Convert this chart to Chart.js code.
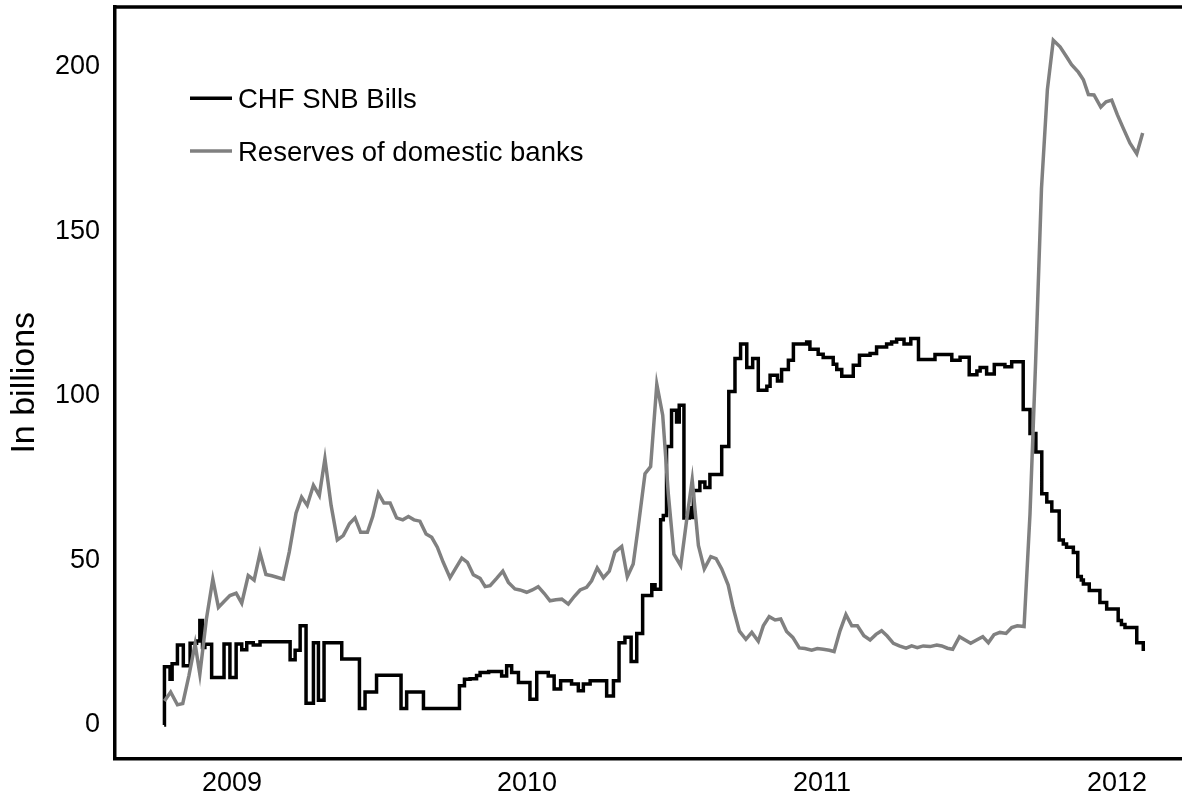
<!DOCTYPE html>
<html>
<head>
<meta charset="utf-8">
<script src="https://cdn.jsdelivr.net/npm/chart.js@4.4.1/dist/chart.umd.min.js"></script>
<style>
html,body{margin:0;padding:0;background:#fff;}
#wrap{width:1182px;height:797px;position:relative;}
</style>
</head>
<body>
<div id="wrap"><canvas id="c"></canvas></div>
<script>
// ---- data ----
const xTickYears = [2009, 2010, 2011, 2012];
const yTickValues = [0, 50, 100, 150, 200];
const seriesNames = ['CHF SNB Bills', 'Reserves of domestic banks'];

// CHF SNB Bills (step series; each value holds until the next date), dates as decimal years
const billsDates = [
  2008.770, 2008.771, 2008.790, 2008.797, 2008.815, 2008.835, 2008.858, 2008.880, 2008.891, 2008.900,
  2008.908, 2008.931, 2008.973, 2008.993, 2009.014, 2009.033, 2009.050, 2009.072, 2009.095, 2009.197,
  2009.214, 2009.231, 2009.251, 2009.276, 2009.293, 2009.312, 2009.372, 2009.432, 2009.451, 2009.490,
  2009.573, 2009.592, 2009.649, 2009.771, 2009.788, 2009.807, 2009.829, 2009.841, 2009.870, 2009.914,
  2009.931, 2009.948, 2009.971, 2010.010, 2010.033, 2010.072, 2010.092, 2010.114, 2010.151, 2010.174,
  2010.191, 2010.214, 2010.270, 2010.293, 2010.312, 2010.332, 2010.353, 2010.372, 2010.392, 2010.423,
  2010.434, 2010.453, 2010.462, 2010.473, 2010.490, 2010.507, 2010.516, 2010.532, 2010.550, 2010.558,
  2010.564, 2010.586, 2010.603, 2010.620, 2010.660, 2010.684, 2010.705, 2010.724, 2010.745, 2010.765,
  2010.784, 2010.813, 2010.824, 2010.849, 2010.863, 2010.886, 2010.903, 2010.948, 2010.959, 2010.987,
  2011.004, 2011.038, 2011.050, 2011.067, 2011.106, 2011.127, 2011.163, 2011.185, 2011.219, 2011.236,
  2011.253, 2011.278, 2011.301, 2011.327, 2011.383, 2011.440, 2011.468, 2011.499, 2011.525, 2011.536,
  2011.558, 2011.584, 2011.620, 2011.643, 2011.682, 2011.705, 2011.725, 2011.745, 2011.762, 2011.779,
  2011.804, 2011.818, 2011.829, 2011.852, 2011.867, 2011.879, 2011.886, 2011.906, 2011.942, 2011.965,
  2012.004, 2012.015, 2012.027, 2012.067, 2012.089, 2012.095
];
const billsValues = [
  0, 17.7, 13.9, 18.6, 24.3, 18, 24.8, 25.5, 31.7, 23.5,
  24.5, 14.4, 24.6, 14.4, 24.6, 22.8, 25, 24.3, 25.3, 19.8,
  22.7, 30.1, 6.6, 25, 7.5, 25, 20, 5, 10, 15.1,
  5, 10, 5, 11.9, 13.9, 14, 15, 15.9, 16.2, 14.9,
  18, 15.9, 12.9, 7.8, 15.9, 14.9, 10.9, 13.4, 12.4, 10.4,
  12.4, 13.4, 8.8, 13.4, 25, 26.6, 19.3, 27.8, 39.3, 42.6,
  41.2, 62.3, 63.6, 84.6, 95.6, 92, 97.1, 62.9, 66, 63,
  71.2, 73.8, 72.1, 76.1, 84.6, 101.3, 111.3, 115.7, 108.6, 111.3,
  101.7, 102.9, 106.2, 104.5, 108, 110.8, 115.7, 116.3, 114.1, 112.6,
  111.6, 109.6, 108, 105.9, 109.3, 112.3, 112.8, 114.8, 115.7, 116.3,
  117.2, 115.7, 117.4, 111, 112.5, 110.8, 111.7, 106.4, 107.5, 108.6,
  106.6, 109.5, 108.8, 110.3, 95.8, 88.5, 82.9, 70.2, 67.7, 65,
  56.2, 55, 54, 52.4, 45.1, 44, 42.8, 40.8, 37.2, 35.2,
  31.7, 30.5, 29.6, 25, 23, 23
];

// Reserves of domestic banks (weekly), dates as decimal years
const reservesDates = [
  2008.771, 2008.792, 2008.815, 2008.833, 2008.854, 2008.875, 2008.891, 2008.913, 2008.935, 2008.954,
  2008.973, 2008.993, 2009.014, 2009.033, 2009.055, 2009.075, 2009.095, 2009.115, 2009.135, 2009.155,
  2009.174, 2009.194, 2009.217, 2009.236, 2009.255, 2009.276, 2009.296, 2009.315, 2009.336, 2009.357,
  2009.377, 2009.398, 2009.417, 2009.436, 2009.459, 2009.477, 2009.496, 2009.515, 2009.536, 2009.558,
  2009.579, 2009.598, 2009.617, 2009.637, 2009.658, 2009.677, 2009.696, 2009.716, 2009.739, 2009.759,
  2009.779, 2009.798, 2009.818, 2009.841, 2009.858, 2009.875, 2009.897, 2009.918, 2009.937, 2009.959,
  2009.976, 2009.999, 2010.018, 2010.038, 2010.058, 2010.078, 2010.098, 2010.118, 2010.140, 2010.160,
  2010.180, 2010.202, 2010.219, 2010.238, 2010.259, 2010.279, 2010.298, 2010.321, 2010.340, 2010.360,
  2010.377, 2010.400, 2010.419, 2010.440, 2010.460, 2010.479, 2010.498, 2010.521, 2010.541, 2010.560,
  2010.581, 2010.601, 2010.623, 2010.641, 2010.660, 2010.682, 2010.699, 2010.720, 2010.742, 2010.762,
  2010.784, 2010.801, 2010.821, 2010.841, 2010.860, 2010.880, 2010.901, 2010.923, 2010.942, 2010.965,
  2010.984, 2011.004, 2011.025, 2011.041, 2011.061, 2011.081, 2011.101, 2011.120, 2011.142, 2011.163,
  2011.183, 2011.202, 2011.221, 2011.242, 2011.262, 2011.285, 2011.304, 2011.323, 2011.343, 2011.366,
  2011.389, 2011.406, 2011.425, 2011.443, 2011.466, 2011.485, 2011.504, 2011.524, 2011.545, 2011.564,
  2011.583, 2011.603, 2011.624, 2011.643, 2011.662, 2011.685, 2011.705, 2011.724, 2011.744, 2011.764,
  2011.784, 2011.807, 2011.829, 2011.846, 2011.869, 2011.886, 2011.903, 2011.922, 2011.945, 2011.963,
  2011.982, 2012.001, 2012.021, 2012.044, 2012.067, 2012.087
];
const reservesValues = [
  7.3, 10, 6.1, 6.5, 15, 24.6, 15.4, 32, 44.3, 35.7,
  37.5, 39.3, 40, 37, 45.4, 44, 52.2, 45.7, 45.3, 44.8,
  44.3, 52.5, 64.3, 69.2, 66.7, 72.8, 69.7, 80.9, 66.7, 56.2,
  57.5, 61.1, 62.9, 58.5, 58.5, 63.3, 70.4, 67.4, 67.4, 62.9,
  62.3, 63.3, 62.3, 61.9, 58, 57, 54, 49.4, 44.7, 47.7,
  50.7, 49.4, 45.6, 44.5, 42, 42.3, 44.5, 46.7, 43.3, 41.3,
  41, 40.3, 41, 42, 40, 37.7, 38, 38.2, 36.7, 39,
  41, 41.8, 43.8, 47.7, 44.7, 46.7, 52.5, 54.2, 45, 48.9,
  60.1, 76.3, 78.5, 103.5, 94.1, 70.2, 51.9, 48.4, 62.1, 74.5,
  54.5, 47.4, 51.1, 50.5, 47.4, 42.5, 35.5, 28.5, 26, 28.1,
  25.4, 30.1, 32.9, 31.9, 32.2, 28.4, 26.6, 23.4, 23.2, 22.7,
  23.2, 23, 22.7, 22.3, 28.6, 33.5, 30.1, 30.1, 27.1, 25.8,
  27.5, 28.6, 27, 24.8, 24, 23.3, 24, 23.5, 24, 23.8,
  24.3, 24, 23.3, 23, 26.8, 25.8, 24.8, 25.8, 26.8, 25,
  27.4, 28.1, 27.8, 29.6, 30.1, 29.9, 64, 110, 163, 193,
  208, 206, 203, 200.6, 198.3, 196, 191.5, 191.4, 187.7, 189.3,
  189.8, 185.4, 181.3, 176.7, 173.5, 179.8
];

// ---- chart ----
const FONT = "'Liberation Sans', Arial, Helvetica, sans-serif";
const toPoints = (xs, ys) => xs.map((x, i) => ({ x: x, y: ys[i] }));

const topFrame = {
  id: 'topFrame',
  afterDatasetsDraw(chart) {
    const { ctx, chartArea: a } = chart;
    ctx.save();
    ctx.strokeStyle = '#000';
    ctx.lineWidth = 3.5;
    ctx.beginPath();
    ctx.moveTo(a.left - 1.75, a.top);
    ctx.lineTo(a.right, a.top);
    ctx.stroke();
    ctx.restore();
  }
};

const inlineLegend = {
  id: 'inlineLegend',
  afterDraw(chart) {
    const ctx = chart.ctx;
    const rows = [{ ly: 98.3, ty: 100 }, { ly: 151, ty: 153 }];
    ctx.save();
    ctx.font = '27.5px ' + FONT;
    ctx.textBaseline = 'middle';
    ctx.textAlign = 'left';
    chart.data.datasets.forEach((ds, i) => {
      const r = rows[i];
      ctx.strokeStyle = ds.borderColor;
      ctx.lineWidth = 3.5;
      ctx.beginPath();
      ctx.moveTo(190, r.ly);
      ctx.lineTo(232, r.ly);
      ctx.stroke();
      ctx.fillStyle = '#000';
      ctx.fillText(ds.label, 238, r.ty);
    });
    ctx.restore();
  }
};

const noPad = (s) => { s.paddingTop = 0; s.paddingBottom = 0; s.paddingLeft = 0; s.paddingRight = 0; };

new Chart(document.getElementById('c'), {
  type: 'line',
  data: {
    datasets: [
      {
        label: seriesNames[0],
        data: toPoints(billsDates, billsValues),
        borderColor: '#000000',
        borderWidth: 3.5,
        stepped: 'before',
        pointRadius: 0,
        fill: false,
        order: 1
      },
      {
        label: seriesNames[1],
        data: toPoints(reservesDates, reservesValues),
        borderColor: '#808080',
        borderWidth: 3.5,
        tension: 0,
        pointRadius: 0,
        fill: false,
        order: 0
      }
    ]
  },
  options: {
    responsive: true,
    maintainAspectRatio: false,
    animation: false,
    devicePixelRatio: 1,
    layout: { padding: { top: 7, right: 0, bottom: 0, left: 0 } },
    plugins: { legend: { display: false }, tooltip: { enabled: false } },
    scales: {
      x: {
        type: 'linear',
        min: 2008.6034,
        max: 2012.2203,
        grid: { display: false, drawTicks: false },
        border: { display: true, color: '#000', width: 3.5 },
        afterBuildTicks: (s) => { s.ticks = xTickYears.map(v => ({ value: v })); },
        afterFit: (s) => { s.height = 38.5; noPad(s); },
        ticks: {
          color: '#000',
          font: { family: FONT, size: 27 },
          padding: 9,
          maxRotation: 0,
          autoSkip: false,
          callback: (v) => String(v)
        }
      },
      y: {
        type: 'linear',
        min: -10.2,
        max: 218.1,
        grid: { display: false, drawTicks: false },
        border: { display: true, color: '#000', width: 3.5 },
        afterBuildTicks: (s) => { s.ticks = yTickValues.map(v => ({ value: v })); },
        afterFit: (s) => { s.width = 115; noPad(s); },
        ticks: {
          color: '#000',
          font: { family: FONT, size: 27 },
          padding: 15,
          callback: (v) => String(v)
        },
        title: {
          display: true,
          text: 'In billions',
          color: '#000',
          font: { family: FONT, size: 34 },
          padding: { top: 4, bottom: 0 }
        }
      }
    }
  },
  plugins: [topFrame, inlineLegend]
});
</script>
</body>
</html>
